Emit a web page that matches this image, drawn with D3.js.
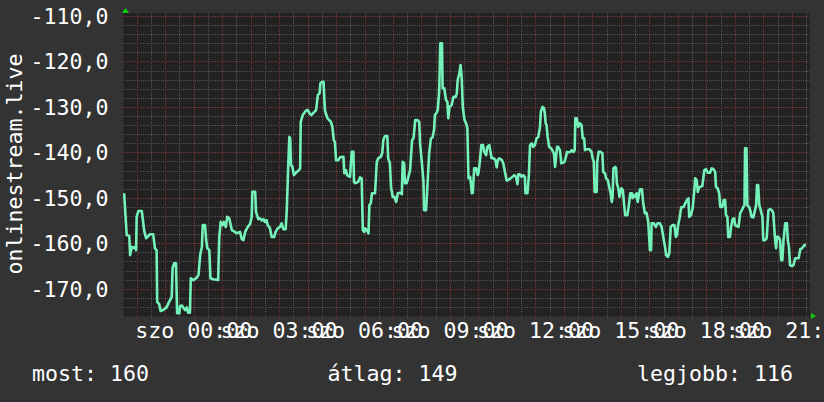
<!DOCTYPE html>
<html><head><meta charset="utf-8">
<script src="https://cdn.jsdelivr.net/npm/d3@7"></script>
<style>html,body{margin:0;padding:0;background:#333333;} svg{display:block;}</style>
</head><body>
<svg id="c" width="824" height="402"></svg>
<script>
// hours relative to Saturday 00:00
const hours = [-2.44,-2.35,-2.26,-2.23,-2.17,-2.12,-2.06,-2.02,-2.00,-1.94,-1.82,-1.79,-1.74,-1.67,-1.59,-1.53,-1.42,-1.36,-1.30,-1.28,-1.21,-1.16,-1.07,-0.95,-0.86,-0.77,-0.74,-0.68,-0.62,-0.58,-0.50,-0.48,-0.41,-0.36,-0.30,-0.24,-0.19,-0.13,-0.10,-0.01,0.09,0.17,0.23,0.29,0.32,0.40,0.44,0.48,0.55,0.59,0.69,0.86,0.90,0.95,1.02,1.06,1.13,1.18,1.25,1.34,1.45,1.51,1.63,1.69,1.75,1.81,1.90,1.98,2.04,2.06,2.16,2.19,2.27,2.33,2.39,2.45,2.50,2.56,2.60,2.68,2.74,2.83,2.88,2.95,3.03,3.09,3.15,3.23,3.27,3.32,3.36,3.39,3.42,3.47,3.52,3.62,3.70,3.74,3.76,3.83,3.89,3.95,4.01,4.07,4.13,4.19,4.24,4.30,4.36,4.42,4.45,4.51,4.56,4.61,4.64,4.70,4.76,4.82,4.87,4.92,4.96,5.00,5.08,5.14,5.20,5.26,5.29,5.35,5.39,5.43,5.49,5.55,5.61,5.63,5.67,5.78,5.84,5.90,5.94,5.99,6.02,6.08,6.14,6.17,6.22,6.26,6.37,6.43,6.48,6.57,6.62,6.66,6.72,6.80,6.83,6.89,6.93,6.99,7.05,7.11,7.17,7.25,7.31,7.34,7.39,7.42,7.48,7.54,7.60,7.63,7.67,7.72,7.78,7.86,7.92,7.95,8.01,8.07,8.09,8.16,8.21,8.27,8.33,8.39,8.44,8.47,8.53,8.57,8.62,8.66,8.72,8.74,8.80,8.86,8.91,8.94,8.98,9.06,9.12,9.20,9.24,9.27,9.33,9.37,9.41,9.45,9.51,9.57,9.61,9.65,9.68,9.71,9.77,9.80,9.85,9.92,9.97,10.00,10.06,10.10,10.16,10.20,10.27,10.31,10.38,10.41,10.46,10.54,10.60,10.64,10.68,10.73,10.82,10.87,10.93,10.99,11.05,11.13,11.19,11.26,11.32,11.37,11.40,11.45,11.51,11.57,11.63,11.65,11.72,11.77,11.81,11.87,11.92,11.98,12.04,12.10,12.16,12.19,12.25,12.30,12.33,12.36,12.39,12.43,12.48,12.55,12.59,12.65,12.69,12.72,12.76,12.80,12.86,12.91,12.96,13.02,13.07,13.11,13.16,13.22,13.28,13.33,13.38,13.40,13.45,13.50,13.56,13.62,13.66,13.71,13.74,13.80,13.89,13.97,14.01,14.05,14.08,14.15,14.17,14.22,14.29,14.35,14.38,14.44,14.48,14.54,14.59,14.64,14.68,14.71,14.74,14.80,14.83,14.86,14.91,14.95,14.98,15.02,15.07,15.11,15.15,15.23,15.28,15.33,15.39,15.41,15.46,15.50,15.55,15.59,15.62,15.67,15.74,15.78,15.84,15.90,15.96,16.02,16.06,16.08,16.16,16.23,16.29,16.37,16.43,16.49,16.55,16.59,16.65,16.70,16.75,16.81,16.88,16.93,16.97,17.01,17.06,17.12,17.20,17.26,17.32,17.37,17.40,17.46,17.52,17.58,17.61,17.66,17.70,17.75,17.86,17.93,17.99,18.05,18.13,18.19,18.25,18.31,18.34,18.40,18.45,18.49,18.56,18.61,18.66,18.69,18.74,18.77,18.83,18.87,18.92,18.98,19.01,19.07,19.13,19.19,19.25,19.30,19.34,19.36,19.41,19.44,19.50,19.54,19.59,19.65,19.71,19.75,19.78,19.82,19.86,19.91,19.97,20.00,20.06,20.12,20.18,20.24,20.30,20.35,20.41,20.45,20.48,20.53,20.59,20.63,20.67,20.71,20.77,20.83,20.86,20.90,20.94,21.00,21.06,21.12,21.18,21.24,21.30,21.36,21.40,21.44,21.50];
const values = [-149.0,-158.2,-158.4,-162.6,-160.8,-161.0,-160.8,-161.5,-154.2,-152.9,-152.9,-154.4,-157.1,-158.9,-158.4,-158.0,-158.0,-161.1,-161.5,-172.9,-173.4,-174.9,-174.7,-174.1,-172.9,-171.8,-165.5,-164.4,-164.4,-175.4,-175.4,-173.8,-173.7,-174.2,-174.7,-174.1,-175.3,-175.3,-167.7,-168.1,-167.7,-167.0,-162.6,-160.8,-156.0,-156.0,-159.3,-161.1,-161.5,-167.7,-167.9,-168.1,-158.6,-155.3,-156.0,-155.3,-156.4,-154.2,-154.5,-157.1,-157.5,-157.8,-157.5,-159.1,-159.3,-157.5,-156.4,-155.8,-154.2,-148.7,-148.7,-153.1,-154.7,-154.5,-155.0,-154.7,-155.3,-154.9,-156.0,-156.7,-158.6,-158.6,-157.5,-156.7,-156.4,-155.6,-156.9,-156.9,-152.7,-143.2,-136.6,-136.9,-142.8,-143.2,-145.0,-144.3,-143.9,-143.5,-133.3,-131.8,-131.3,-130.8,-130.7,-131.4,-131.8,-131.4,-131.1,-130.7,-127.4,-127.0,-124.8,-124.5,-124.5,-130.7,-131.4,-132.5,-132.9,-133.3,-134.4,-137.3,-137.7,-141.7,-141.7,-141.1,-141.0,-141.0,-144.6,-143.9,-145.0,-145.2,-145.4,-139.9,-139.9,-146.5,-146.8,-146.5,-145.5,-145.7,-157.1,-157.5,-156.7,-157.1,-157.8,-151.6,-151.2,-149.0,-149.0,-142.1,-141.3,-141.0,-140.2,-137.3,-136.4,-136.4,-141.3,-142.4,-147.6,-149.8,-149.8,-150.9,-149.0,-148.9,-149.2,-142.1,-142.4,-146.8,-146.8,-145.4,-143.9,-141.0,-137.3,-136.9,-132.9,-132.9,-133.3,-138.0,-142.1,-146.5,-152.7,-152.7,-147.2,-140.2,-136.9,-136.7,-135.1,-131.8,-131.3,-130.7,-126.7,-116.0,-116.0,-125.9,-125.9,-128.5,-128.9,-132.5,-130.0,-129.6,-127.8,-127.8,-127.0,-124.1,-122.6,-120.8,-123.4,-130.0,-132.9,-133.6,-134.7,-145.7,-145.7,-145.4,-149.0,-148.9,-143.5,-143.5,-145.0,-144.6,-141.3,-138.4,-138.4,-139.9,-140.6,-138.8,-138.4,-139.5,-141.3,-141.3,-141.8,-143.3,-141.7,-141.3,-141.7,-142.4,-144.3,-146.2,-146.1,-145.7,-145.4,-145.0,-145.4,-147.0,-144.8,-144.8,-145.4,-145.0,-145.4,-149.0,-149.0,-145.0,-138.4,-138.0,-138.8,-138.4,-136.9,-136.6,-134.4,-131.1,-130.0,-130.3,-131.4,-133.6,-134.0,-136.6,-138.8,-139.1,-139.5,-140.2,-143.2,-141.3,-138.8,-138.8,-139.5,-142.4,-142.3,-142.1,-141.0,-139.9,-140.0,-139.9,-139.5,-139.9,-139.5,-132.5,-132.5,-134.4,-133.6,-134.0,-136.9,-136.9,-139.5,-139.3,-139.3,-139.9,-141.3,-142.1,-148.7,-148.7,-142.1,-139.9,-139.9,-140.2,-144.3,-144.6,-145.7,-146.1,-147.6,-149.0,-150.9,-149.8,-143.5,-143.2,-143.5,-146.8,-147.9,-149.8,-149.0,-147.9,-148.3,-151.2,-153.8,-153.8,-151.6,-149.0,-149.0,-150.1,-149.4,-149.8,-149.0,-150.9,-149.8,-148.1,-148.1,-150.9,-153.4,-153.3,-155.3,-161.5,-161.5,-155.6,-155.6,-156.4,-155.6,-155.6,-156.4,-158.6,-160.8,-162.6,-163.0,-162.2,-156.4,-156.0,-156.0,-158.6,-158.2,-156.0,-154.5,-152.1,-152.0,-151.2,-150.5,-150.1,-154.2,-153.8,-152.3,-148.3,-145.7,-146.1,-148.7,-147.7,-147.4,-143.9,-143.7,-144.5,-144.5,-143.5,-143.7,-144.3,-147.6,-147.9,-149.0,-152.0,-152.0,-150.5,-150.5,-153.8,-154.2,-158.6,-158.6,-156.4,-154.7,-154.5,-156.0,-156.2,-156.4,-153.3,-152.7,-152.0,-151.6,-139.1,-139.1,-151.6,-152.0,-152.7,-154.2,-154.3,-152.7,-151.6,-147.2,-147.2,-151.6,-152.7,-154.2,-159.3,-159.3,-158.9,-152.7,-152.5,-152.7,-153.3,-158.9,-161.1,-158.6,-158.6,-159.3,-163.7,-163.7,-159.3,-155.6,-155.6,-159.3,-160.8,-164.8,-165.0,-164.8,-163.3,-163.3,-163.3,-161.3,-161.1,-160.8,-160.4,-160.4];
const xTickHours = [0,3,6,9,12,15,18,21];
const xTickLabels = ["szo 00:00","szo 03:00","szo 06:00","szo 09:00","szo 12:00","szo 15:00","szo 18:00","szo 21:00"];
const yTickValues = [-110,-120,-130,-140,-150,-160,-170];
const yTickLabels = ["-110,0","-120,0","-130,0","-140,0","-150,0","-160,0","-170,0"];
const axisTitle = "onlinestream.live";
const legendLabels = ["most:","átlag:","legjobb:"];
const legendValues = ["160","149","116"];
const timeDomain = [-2.48, 21.64];
const valueDomain = [-176, -110];

const svg = d3.select("#c");
const W = 824, H = 402;
const L = 123, R = 810, T = 16, B = 316, PT = 13;
const FONT = "'DejaVu Sans Mono', monospace";
const FS = 21.6;

const x = d3.scaleLinear().domain(timeDomain).range([L, R]);
const y = d3.scaleLinear().domain(valueDomain).range([B, T]);

svg.append("rect").attr("width", W).attr("height", H).attr("fill", "#333333");
svg.append("rect").attr("x", L).attr("y", PT).attr("width", R - L).attr("height", B - PT).attr("fill", "#222222");

const grid = svg.append("g").attr("shape-rendering", "crispEdges");
const minorY = d3.range(-176, -109, 2).filter(v => v % 10 !== 0);
grid.selectAll(".hmin").data(minorY).join("line")
  .attr("x1", L - 2).attr("x2", R)
  .attr("y1", d => Math.round(y(d)) + 0.5).attr("y2", d => Math.round(y(d)) + 0.5)
  .attr("stroke", "#525252").attr("stroke-dasharray", "1,1");
const minorX = d3.range(-2.5, 21.8, 0.5).filter(h => h % 1 !== 0 && x(h) > L && x(h) < R);
grid.selectAll(".vmin").data(minorX).join("line")
  .attr("y1", PT).attr("y2", B + 2)
  .attr("x1", d => Math.round(x(d)) + 0.5).attr("x2", d => Math.round(x(d)) + 0.5)
  .attr("stroke", "#525252").attr("stroke-dasharray", "1,1");
grid.selectAll(".hmaj").data(yTickValues).join("line")
  .attr("x1", L - 2).attr("x2", R)
  .attr("y1", d => Math.round(y(d)) + 0.5).attr("y2", d => Math.round(y(d)) + 0.5)
  .attr("stroke", "#7c3434").attr("stroke-dasharray", "1,1");
const majorX = d3.range(-2, 22, 1).filter(h => x(h) > L && x(h) < R);
grid.selectAll(".vmaj").data(majorX).join("line")
  .attr("y1", PT).attr("y2", B + 2)
  .attr("x1", d => Math.round(x(d)) + 0.5).attr("x2", d => Math.round(x(d)) + 0.5)
  .attr("stroke", "#7c3434").attr("stroke-dasharray", "1,1");
grid.append("line").attr("x1", L + 0.5).attr("x2", L + 0.5).attr("y1", PT).attr("y2", B)
  .attr("stroke", "#2c2c2c");
grid.append("line").attr("x1", L).attr("x2", R).attr("y1", B + 0.5).attr("y2", B + 0.5)
  .attr("stroke", "#2c2c2c");

svg.append("clipPath").attr("id", "clip").append("rect")
  .attr("x", L).attr("y", PT).attr("width", R - L).attr("height", B - PT);
const data = hours.map((h, i) => [h, values[i]]);
const line = d3.line().x(d => x(d[0])).y(d => y(d[1])).curve(d3.curveLinear);
svg.append("path").datum(data).attr("d", line)
  .attr("clip-path", "url(#clip)")
  .attr("fill", "none").attr("stroke", "#74f2ba").attr("stroke-width", 2.6)
  .attr("stroke-linejoin", "round");

svg.append("path").attr("d", `M${L - 1},${PT}L${L + 2.5},${PT - 5}L${L + 6},${PT}Z`).attr("fill", "#11cc11");
svg.append("path").attr("d", `M${R + 1},${B - 3}L${R + 6},${B}L${R + 1},${B + 3}Z`).attr("fill", "#11cc11");

const txt = svg.append("g").attr("font-family", FONT).attr("font-size", FS).attr("fill", "#ffffff");
txt.selectAll(".yt").data(yTickValues).join("text")
  .attr("x", 108.5).attr("y", d => y(d)).attr("dy", "0.36em").attr("text-anchor", "end")
  .text((d, i) => yTickLabels[i]);
txt.selectAll(".xt").data(xTickHours).join("text")
  .attr("x", d => x(d)).attr("y", 338).attr("text-anchor", "middle")
  .text((d, i) => xTickLabels[i]);
txt.append("text").attr("transform", "translate(22,164) rotate(-90)")
  .attr("text-anchor", "middle").text(axisTitle);
const legendX = [32, 327.5, 637];
txt.selectAll(".lg").data(legendLabels).join("text")
  .attr("x", (d, i) => legendX[i]).attr("y", 381)
  .text((d, i) => d + " " + legendValues[i]);
</script>
</body></html>
